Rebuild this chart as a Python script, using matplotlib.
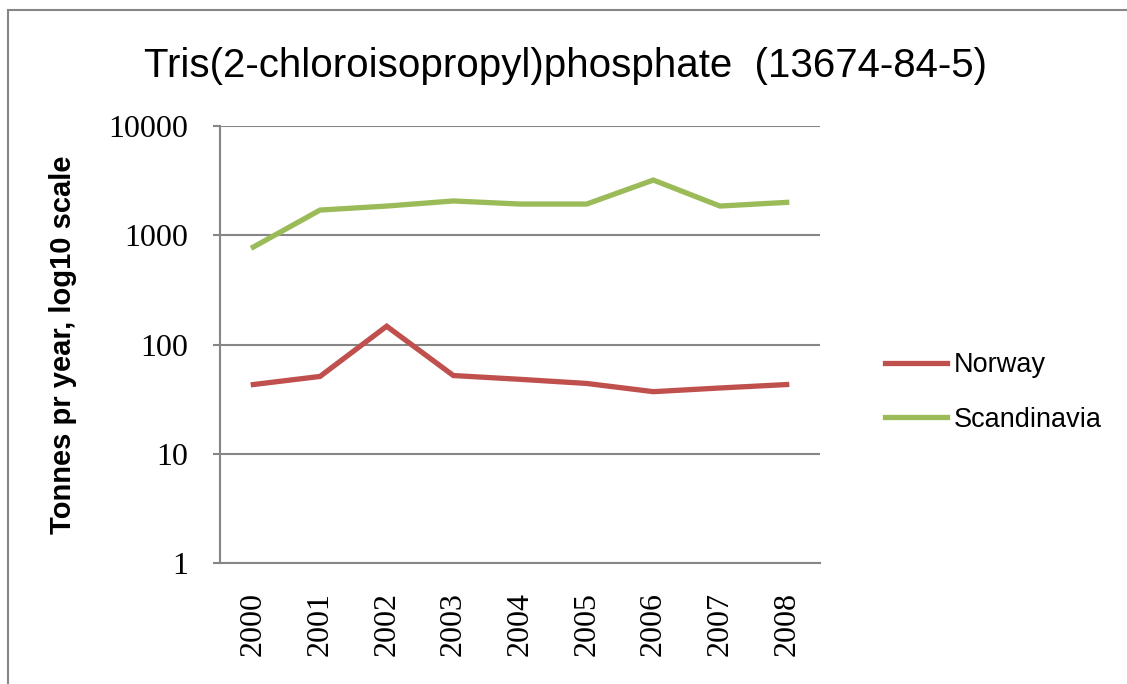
import matplotlib
matplotlib.use("Agg")
import matplotlib.pyplot as plt
from matplotlib.patches import Rectangle

years = ["2000", "2001", "2002", "2003", "2004", "2005", "2006", "2007", "2008"]
norway = [43, 51, 147, 52, 48, 44, 37, 40, 43]
scandinavia = [780, 1700, 1850, 2060, 1930, 1930, 3200, 1850, 2000]
ytick_vals = [1, 10, 100, 1000, 10000]

RED = "#C0504D"
GREEN = "#9BBB59"
GRID = "#868686"

fig = plt.figure(figsize=(11.27, 6.84), dpi=100)
# outer chart border (cut off at right/bottom like the source)
fig.patches.append(Rectangle((8 / 1127, -0.05), 1.2, 1 - 10 / 684 + 0.05,
                             transform=fig.transFigure, fill=False,
                             edgecolor=GRID, linewidth=1.5))

ax = fig.add_axes([220 / 1127, 1 - 563 / 684, 600 / 1127, (563 - 126) / 684])
x = list(range(len(years)))
ax.plot(x, norway, color=RED, lw=3.8, label="Norway", solid_joinstyle="miter")
ax.plot(x, scandinavia, color=GREEN, lw=3.8, label="Scandinavia", solid_joinstyle="miter")

ax.set_yscale("log")
ax.set_ylim(1, 10000)
ax.set_xlim(-0.5, len(years) - 0.5)
ax.set_yticks(ytick_vals)
ax.set_yticklabels([str(v) for v in ytick_vals], family="Liberation Serif",
                   fontsize=23)
ax.yaxis.set_minor_locator(matplotlib.ticker.NullLocator())
ax.tick_params(axis="y", which="major", length=5, width=1.5, color=GRID, pad=18)
ax.set_xticks(x)
ax.set_xticklabels(years, rotation=90, family="Liberation Serif",
                   fontsize=23, va="top")
ax.tick_params(axis="x", length=0, pad=21)

ax.grid(axis="y", color=GRID, lw=1.5)
ax.set_axisbelow(True)
for s in ["top", "right"]:
    ax.spines[s].set_visible(False)
for s in ["left", "bottom"]:
    ax.spines[s].set_color(GRID)
    ax.spines[s].set_linewidth(1.5)

ax.set_ylabel("Tonnes pr year, log10 scale", family="Liberation Sans",
              fontweight="bold", fontsize=21, labelpad=0)
ax.yaxis.set_label_coords((77 - 220) / 600, 0.5)

fig.text(565 / 1127, 1 - 66 / 684, "Tris(2-chloroisopropyl)phosphate  (13674-84-5)",
         ha="center", va="center", family="Liberation Sans", fontsize=29)

ax.legend(loc="center left", bbox_to_anchor=(1.067, 0.39), frameon=False,
          prop={"family": "Liberation Sans", "size": 19.5}, handlelength=2.3,
          handletextpad=0.25, labelspacing=1.05)

fig.savefig("out.png", dpi=100)
